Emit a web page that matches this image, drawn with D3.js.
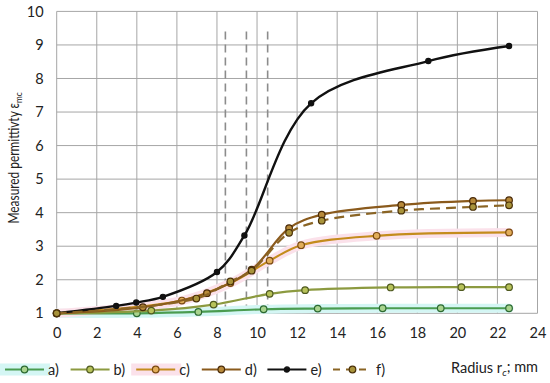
<!DOCTYPE html>
<html>
<head>
<meta charset="utf-8">
<script src="https://cdn.jsdelivr.net/npm/d3@7"></script>
<style>
  body { margin: 0; background: #fff; }
  text { font-family: Lato, "Open Sans", sans-serif; fill: #222; }
  .grid line { stroke: #a6a6a6; stroke-width: 1; }
  .axis path, .axis line { display: none; }
  .axis text { font-size: 14.5px; }
</style>
</head>
<body>
<div id="chart"></div>
<script>
// radius (mm) and measured permittivity per series
const seriesA = [[0, 1], [4, 1.0], [7.07, 1.04], [10.33, 1.12], [13.03, 1.14], [16.27, 1.15], [19.17, 1.15], [22.58, 1.15]];
const seriesB = [[0, 1], [4.72, 1.08], [7.83, 1.26], [10.63, 1.58], [12.4, 1.69], [16.67, 1.77], [20.2, 1.78], [22.58, 1.78]];
const seriesC = [[0, 1], [6.25, 1.38], [8.67, 1.9], [10.63, 2.57], [12.2, 3.03], [15.97, 3.31], [22.58, 3.41]];
const seriesD = [[0, 1], [4.3, 1.18], [7.5, 1.6], [9.73, 2.3], [11.6, 3.54], [13.23, 3.94], [17.2, 4.23], [20.78, 4.35], [22.58, 4.37]];
const seriesE = [[0, 1], [2.97, 1.22], [3.97, 1.32], [5.3, 1.49], [8.0, 2.23], [9.37, 3.32], [12.7, 7.26], [18.55, 8.52], [22.58, 8.97]];
const seriesF = [[0, 1], [6.97, 1.44], [8.67, 1.95], [9.73, 2.27], [11.6, 3.4], [13.23, 3.76], [17.2, 4.06], [20.78, 4.17], [22.58, 4.22]];
const seriesNames = ["a)", "b)", "c)", "d)", "e)", "f)"];
const xTicks = [0, 2, 4, 6, 8, 10, 12, 14, 16, 18, 20, 22, 24];
const yTicks = [1, 2, 3, 4, 5, 6, 7, 8, 9, 10];
const markerRadii = [8.42, 9.47, 10.53]; // dashed vertical lines
const markerTop = 9.4;

function drawChart(width, height, selector) {
  let margin = { top: 11.4, left: 56.7, right: 12.5, bottom: 69.7 };
  let chartWidth = width - margin.left - margin.right;
  let chartHeight = height - margin.top - margin.bottom;

  let x = d3.scaleLinear().domain([0, 24]).range([0, chartWidth]);
  let y = d3.scaleLinear().domain([1, 10]).range([chartHeight, 0]);

  let svg = d3.select(selector).append("svg")
    .attr("width", width)
    .attr("height", height);

  let chart = svg.append("g")
    .attr("transform", "translate(" + margin.left + "," + margin.top + ")");

  // grid
  chart.append("g").attr("class", "grid")
    .selectAll("line.v").data(xTicks).join("line")
    .attr("x1", d => x(d)).attr("x2", d => x(d))
    .attr("y1", 0).attr("y2", chartHeight);
  chart.append("g").attr("class", "grid")
    .selectAll("line.h").data(yTicks).join("line")
    .attr("x1", 0).attr("x2", chartWidth)
    .attr("y1", d => y(d)).attr("y2", d => y(d));

  // axes (labels only)
  chart.append("g").attr("class", "axis")
    .attr("transform", "translate(0," + chartHeight + ")")
    .call(d3.axisBottom(x).tickValues(xTicks).tickSize(0).tickPadding(14).tickFormat(d3.format("d")));
  chart.append("g").attr("class", "axis")
    .call(d3.axisLeft(y).tickValues(yTicks).tickSize(0).tickPadding(13).tickFormat(d3.format("d")));

  // dashed verticals
  chart.selectAll(".vmark").data(markerRadii).join("line")
    .attr("x1", d => x(d)).attr("x2", d => x(d))
    .attr("y1", y(markerTop)).attr("y2", y(1))
    .attr("stroke", "#8c8c8c").attr("stroke-width", 1.6)
    .attr("stroke-dasharray", "8,5");

  let line = d3.line()
    .curve(d3.curveCatmullRom.alpha(0.5))
    .x(d => x(d[0]))
    .y(d => y(d[1]));

  let styles = [
    { data: seriesA, color: "#4a9c50", fill: "#a8d48e", stroke: "#2d6a32", glow: "#d4f6f4", dash: null, r: 3.3 },
    { data: seriesB, color: "#8c9a40", fill: "#b7c25a", stroke: "#4f5a20", glow: null, dash: null, r: 3.3 },
    { data: seriesC, color: "#c48c1c", fill: "#e2ad5a", stroke: "#7a4a10", glow: "#fbe1ea", dash: null, r: 3.3 },
    { data: seriesD, color: "#8a5a1c", fill: "#b88a3a", stroke: "#4a2a08", glow: null, dash: null, r: 3.3 },
    { data: seriesE, color: "#111111", fill: "#111111", stroke: "#111111", glow: null, dash: null, r: 2.6 },
    { data: seriesF, color: "#8a6424", fill: "#a8933a", stroke: "#4a3008", glow: null, dash: "10,6", r: 3.3 }
  ];

  // glow layers first
  styles.forEach(s => {
    if (s.glow) {
      chart.append("path")
        .attr("d", line(s.data))
        .attr("fill", "none")
        .attr("stroke", s.glow)
        .attr("stroke-width", 9)
        .attr("stroke-linecap", "round");
    }
  });

  styles.forEach(s => {
    chart.append("path")
      .attr("d", line(s.data))
      .attr("fill", "none")
      .attr("stroke", s.color)
      .attr("stroke-width", s.data === seriesE ? 2.4 : 2.2)
      .attr("stroke-dasharray", s.dash);
    chart.selectAll(null).data(s.data).join("circle")
      .attr("cx", d => x(d[0]))
      .attr("cy", d => y(d[1]))
      .attr("r", s.r)
      .attr("fill", s.fill)
      .attr("stroke", s.stroke)
      .attr("stroke-width", 1.2);
  });

  // y axis title (narrowed to mimic a condensed face)
  let yTitle = svg.append("text")
    .attr("transform", "translate(14,158) rotate(-90) scale(0.82,1)")
    .attr("text-anchor", "middle")
    .attr("dy", "0.35em")
    .style("font-size", "14.5px");
  yTitle.append("tspan").text("Measured permittivty ε");
  yTitle.append("tspan").text("mc").attr("dy", "0.3em").style("font-size", "10px");

  // x axis title
  let xTitle = svg.append("text")
    .attr("x", 451).attr("y", 373)
    .style("font-size", "14.5px");
  xTitle.append("tspan").text("Radius r");
  xTitle.append("tspan").text("c").attr("dy", "0.3em").style("font-size", "10px").style("font-style", "italic");
  xTitle.append("tspan").text("; mm").attr("dy", "-0.3em");

  // legend
  let legend = svg.append("g").attr("transform", "translate(0,369.5)");
  styles.forEach((s, i) => {
    let g = legend.append("g").attr("transform", "translate(" + (5 + i * 65.6) + ",0)");
    if (s.glow) {
      g.append("rect").attr("x", -5).attr("y", -6).attr("width", 50).attr("height", 12).attr("fill", s.glow);
    }
    g.append("line").attr("x1", 0).attr("x2", 39).attr("y1", 0).attr("y2", 0)
      .attr("stroke", s.color).attr("stroke-width", 2.2)
      .attr("stroke-dasharray", s.dash ? "7,6" : null);
    g.append("circle").attr("cx", 19.5).attr("cy", 0).attr("r", s.r)
      .attr("fill", s.fill).attr("stroke", s.stroke).attr("stroke-width", 1.2);
    g.append("text").attr("x", 43).attr("y", 0).attr("dy", "0.35em")
      .style("font-size", "14.5px").text(seriesNames[i]);
  });
}

drawChart(550, 383, "#chart");
</script>
</body>
</html>
